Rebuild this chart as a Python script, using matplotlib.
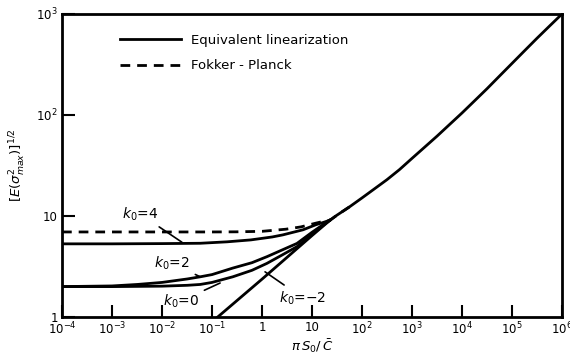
import numpy as np
import matplotlib.pyplot as plt

# (x = pi*S0/C, y = [E(sigma_max^2)]^1/2)
x_common = [23, 31.6, 56, 100, 178, 316, 562, 1000, 1778, 3162, 5623, 1e4,
            17783, 31623, 56234, 1e5, 177828, 316228, 562341, 1e6]
y_common = [9.1, 10.2, 12.3, 15.1, 18.6, 22.9, 28.8, 37.2, 47.9, 61.7, 80.4, 104.7,
            138, 182, 243, 324, 432, 575, 759, 1000]

x_fp4 = [1e-4, 1e-3, 1e-2, 0.1, 0.3, 1, 3, 6, 12, 17]
y_fp4 = [6.95, 6.95, 6.95, 6.95, 6.97, 7.05, 7.4, 7.8, 8.5, 8.85]

x_el4 = [1e-4, 1e-3, 1e-2, 0.058, 0.2, 0.6, 1.6, 2.6, 6.6, 12, 17]
y_el4 = [5.3, 5.3, 5.33, 5.37, 5.55, 5.8, 6.2, 6.5, 7.3, 8.2, 8.65]

x_el2 = [1e-4, 1e-3, 3.2e-3, 1e-2, 0.032, 0.058, 0.1, 0.26, 0.63, 1.26, 2.5, 5, 10, 16]
y_el2 = [2.0, 2.03, 2.1, 2.2, 2.38, 2.5, 2.63, 3.05, 3.45, 3.96, 4.6, 5.35, 6.9, 8.1]

x_el0 = [1e-4, 1e-3, 1e-2, 0.032, 0.058, 0.1, 0.26, 0.63, 1.26, 2.5, 5, 10, 16]
y_el0 = [2.0, 2.0, 2.02, 2.06, 2.1, 2.2, 2.5, 2.9, 3.4, 4.1, 4.97, 6.6, 7.95]

x_elm2 = [0.13, 1, 10]
y_elm2 = [1.0, 2.37, 6.4]

xticks = [1e-4, 1e-3, 1e-2, 1e-1, 1, 10, 1e2, 1e3, 1e4, 1e5, 1e6]
xticklabels = [r'$10^{-4}$', r'$10^{-3}$', r'$10^{-2}$', r'$10^{-1}$', '1', '10',
               r'$10^{2}$', r'$10^{3}$', r'$10^{4}$', r'$10^{5}$', r'$10^{6}$']
yticks = [1, 10, 1e2, 1e3]
yticklabels = ['1', '10', r'$10^{2}$', r'$10^{3}$']

fig = plt.figure(figsize=(5.7, 3.58), dpi=100)
ax = fig.add_axes([0.1088, 0.1145, 0.8772, 0.8465])
lw = 2.0

# solid branches join the common curve
ax.plot(x_el4 + x_common, y_el4 + y_common, 'k-', lw=lw, label='Equivalent linearization')
ax.plot(x_el2 + x_common[:1], y_el2 + y_common[:1], 'k-', lw=lw)
ax.plot(x_el0 + x_common[:1], y_el0 + y_common[:1], 'k-', lw=lw)
ax.plot(x_elm2 + x_common[:1], y_elm2 + y_common[:1], 'k-', lw=lw)
ax.plot(x_fp4 + x_common[:3], y_fp4 + y_common[:3], 'k--', lw=lw,
        dashes=(3.5, 2.5), label='Fokker - Planck')

ax.set_xscale('log')
ax.set_yscale('log')
ax.set_xlim(1e-4, 1e6)
ax.set_ylim(1, 1e3)
ax.set_xticks(xticks)
ax.set_xticklabels(xticklabels)
ax.set_yticks(yticks)
ax.set_yticklabels(yticklabels)
ax.minorticks_off()
ax.tick_params(direction='in', length=9, width=1.5, labelsize=8.5, pad=3)
for s in ax.spines.values():
    s.set_linewidth(2)

ax.set_xlabel(r'$\pi\, S_0/\,\bar{C}$', fontsize=9.5, labelpad=0)
ax.set_ylabel(r'$[E(\sigma^2_{max})]^{1/2}$', fontsize=9.5, labelpad=6)

kw = dict(fontsize=10, ha='center', va='center',
          arrowprops=dict(arrowstyle='-', color='k', lw=1.2, shrinkA=2, shrinkB=0))
ax.annotate(r'$k_0$=4', xy=(0.025, 5.5), xytext=(3.6e-3, 10.5), **kw)
ax.annotate(r'$k_0$=2', xy=(0.058, 2.5), xytext=(0.016, 3.4), **kw)
ax.annotate(r'$k_0$=0', xy=(0.145, 2.17), xytext=(0.024, 1.44), **kw)
ax.annotate(r'$k_0$=$-$2', xy=(1.15, 2.8), xytext=(6.6, 1.54), **kw)

ax.legend(loc='upper left', bbox_to_anchor=(0.116, 0.935), frameon=False,
          fontsize=9.5, handlelength=4.6, handletextpad=0.8, borderpad=0,
          labelspacing=0.95, borderaxespad=0)

fig.savefig('out.png', dpi=100)
